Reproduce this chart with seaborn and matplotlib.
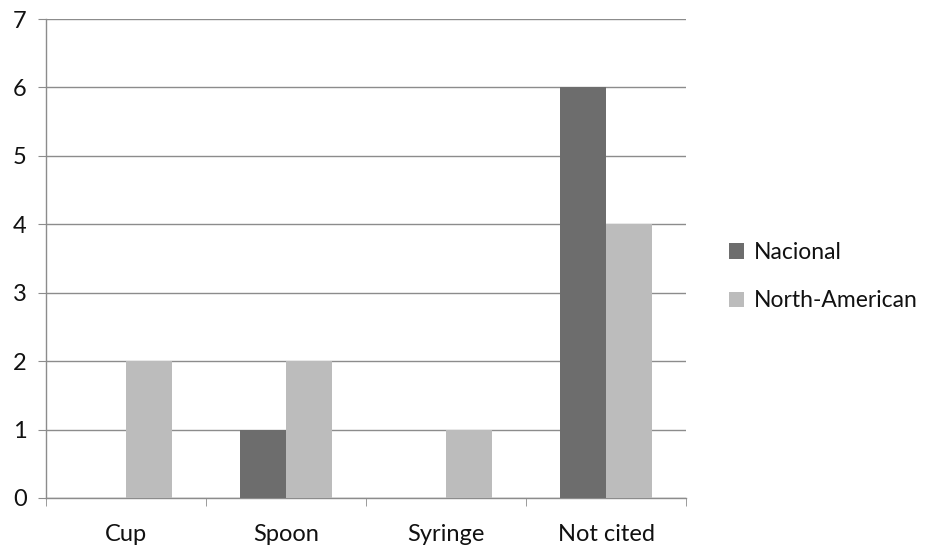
import numpy as np
import pandas as pd
import matplotlib
matplotlib.use("Agg")
import matplotlib.pyplot as plt
import seaborn as sns

categories = ["Cup", "Spoon", "Syringe", "Not cited"]
nacional = [0, 1, 0, 6]
north_american = [2, 2, 1, 4]
series_names = ["Nacional", "North-American"]
colors = ["#6d6d6d", "#bcbcbc"]

df = pd.DataFrame({
    "category": categories * 2,
    "value": nacional + north_american,
    "series": [series_names[0]] * 4 + [series_names[1]] * 4,
})

sns.set_style("white")
plt.rcParams["font.family"] = ["Lato", "DejaVu Sans"]

fig = plt.figure(figsize=(9.25, 5.47), dpi=100)
ax = fig.add_axes([46 / 925, 1 - 498 / 547, 640 / 925, 479 / 547])

sns.barplot(data=df, x="category", y="value", hue="series", palette=colors,
            width=0.575, gap=0, saturation=1, linewidth=0, ax=ax,
            legend=True, zorder=3)

ax.set_xlim(-0.5, 3.5)
ax.set_ylim(0, 7)
ax.set_yticks(range(0, 8))
ax.yaxis.grid(True, color="#8c8c8c", linewidth=1, zorder=0)
ax.set_axisbelow(True)
ax.set_xlabel("")
ax.set_ylabel("")

for s in ["top", "right"]:
    ax.spines[s].set_visible(False)
for s in ["left", "bottom"]:
    ax.spines[s].set_color("#8c8c8c")
    ax.spines[s].set_linewidth(1)

ax.tick_params(axis="y", which="major", left=True, length=6, color="#8c8c8c",
               labelsize=17, labelcolor="#111111", pad=8)
ax.tick_params(axis="x", which="major", bottom=False, labelsize=17,
               labelcolor="#111111", pad=15)
ax.set_xticks(np.arange(-0.5, 4, 1), minor=True)
ax.tick_params(axis="x", which="minor", bottom=True, length=6, color="#8c8c8c")

leg = ax.legend(loc="center left", bbox_to_anchor=(1.05, 0.462), frameon=False,
                fontsize=16.5, handlelength=0.65, handleheight=0.65,
                handletextpad=0.4, labelspacing=1.2, borderpad=0)
for t in leg.get_texts():
    t.set_color("#111111")

fig.savefig("out.png", dpi=100)
